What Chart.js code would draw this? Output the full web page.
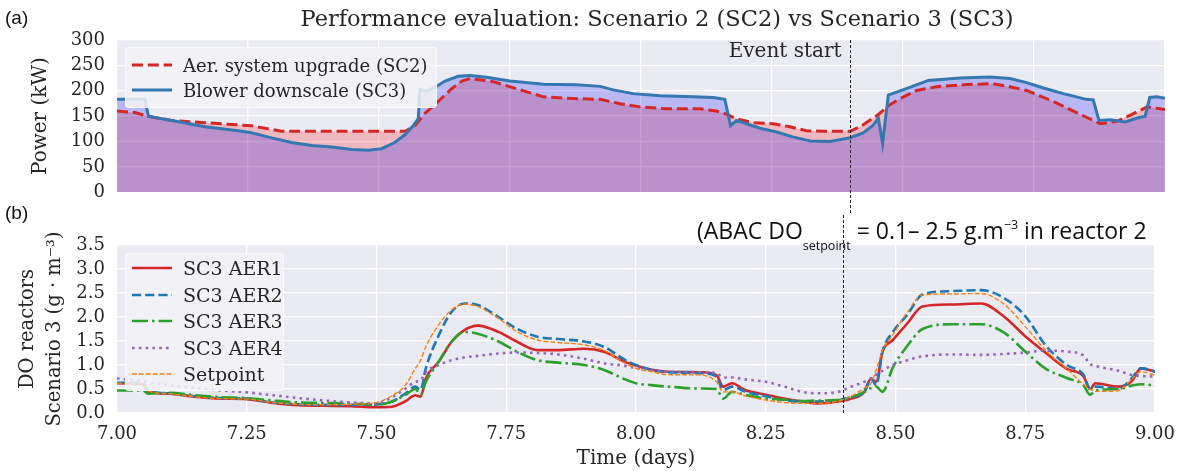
<!DOCTYPE html>
<html>
<head>
<meta charset="utf-8">
<title>SC2 vs SC3</title>
<script src="https://cdn.jsdelivr.net/npm/chart.js@4.4.1/dist/chart.umd.min.js"></script>
<style>
    body { margin: 0; width: 1186px; height: 471px; position: relative; overflow: hidden; background: #fff; color: #262626; font-family: "DejaVu Serif", serif; }
    canvas { position: absolute; left: 0; }
    #topChart { top: 0; }
    #bottomChart { top: 215px; }
    .panel-tag { position: absolute; left: 5px; font-family: "Liberation Sans", Arial, sans-serif; font-size: 19px; line-height: 22px; color: #111; }
    #mainTitle { position: absolute; top: 4px; left: 133px; width: 1048px; text-align: center; font-size: 22.5px; line-height: 28px; white-space: nowrap; }
    #abac { position: absolute; left: 697px; top: 216px; font-family: "Open Sans", sans-serif; font-size: 23px; line-height: 28px; white-space: nowrap; color: #111; }
    #abac .sub { font-size: 12.5px; position: relative; top: 11px; }
    #abac .sup { font-size: 12.5px; position: relative; top: -10px; }
    .legend { position: absolute; background: rgba(242, 242, 247, 0.85); border: 1px solid rgba(255, 255, 255, 0.7); border-radius: 4px; }
    .legend-row { position: absolute; left: 6px; height: 20px; display: flex; align-items: center; white-space: nowrap; }
    .legend-row svg { margin-right: 11px; }
    #topLegend .legend-row { font-size: 18px; }
    #bottomLegend .legend-row { font-size: 19px; }
</style>
</head>
<body>
<canvas id="topChart" width="1186" height="215"></canvas>
<canvas id="bottomChart" width="1186" height="256"></canvas>
<div class="panel-tag" style="top:7px">(a)</div>
<div class="panel-tag" style="top:202px">(b)</div>
<div id="mainTitle">Performance evaluation: Scenario 2 (SC2) vs Scenario 3 (SC3)</div>
<div id="abac">(ABAC DO<span class="sub">setpoint</span> = 0.1– 2.5 g.m<span class="sup">−3</span> in reactor 2</div>
<div class="legend" id="topLegend" style="left:125px; top:47px; width:310px; height:59px"></div>
<div class="legend" id="bottomLegend" style="left:125px; top:253px; width:157px; height:136px"></div>

<script>
// Power, scenario 2 (aeration system upgrade)
const sc2Days = [7.000, 7.034, 7.060, 7.104, 7.168, 7.219, 7.257, 7.289, 7.314, 7.550, 7.569, 7.588, 7.613, 7.638, 7.658, 7.674,
    7.718, 7.769, 7.814, 7.858, 7.922, 7.960, 7.998, 8.049, 8.113, 8.144, 8.163, 8.182, 8.214, 8.252, 8.284, 8.316, 8.351,
    8.399, 8.418, 8.450, 8.475, 8.501, 8.526, 8.564, 8.615, 8.669, 8.704, 8.736, 8.780, 8.831, 8.876, 8.908, 8.934, 8.966, 9.000];
const sc2Power = [160, 157, 149.5, 141.5, 137, 133.5, 131, 124.8, 120, 120, 132, 155.8, 178.8, 203.5, 219, 224,
    218, 201.7, 188, 185, 183, 174.5, 168.2, 164.4, 164.4, 160, 154, 144.7, 137, 135, 129, 121, 120,
    120, 129, 150.8, 172.6, 188, 200.5, 208, 211.7, 214.2, 208, 200.5, 182, 157, 135, 139.7, 152, 168.2, 163];

// Power, scenario 3 (blower downscale)
const sc3Days = [7.000, 7.053, 7.060, 7.104, 7.168, 7.231, 7.257, 7.295, 7.333, 7.372, 7.410, 7.448, 7.480, 7.505, 7.530,
    7.550, 7.566, 7.575, 7.578, 7.590, 7.607, 7.626, 7.651, 7.674, 7.705, 7.750, 7.814, 7.877, 7.922, 7.947, 7.985, 8.036,
    8.100, 8.138, 8.160, 8.171, 8.182, 8.195, 8.227, 8.259, 8.291, 8.323, 8.361, 8.399, 8.424, 8.443, 8.453, 8.461, 8.472,
    8.513, 8.548, 8.609, 8.666, 8.704, 8.736, 8.768, 8.806, 8.850, 8.863, 8.874, 8.895, 8.924, 8.952, 8.962, 8.971, 8.984, 9.000];
const sc3Power = [183, 183, 150, 141.5, 129, 121, 117, 107, 98, 92, 89, 84, 82.5, 85.7, 98,
    113.6, 132, 145, 203, 199, 207, 219, 228.5, 230, 226.6, 219, 212.9, 211.7, 208.6, 201.7, 194.3, 190,
    188, 186.8, 183, 131, 141.5, 137, 126, 118.6, 108.6, 101, 100, 107.4, 116.7, 132, 145.8, 96.2, 191.2,
    206.7, 220.3, 225.3, 227, 224, 216, 205.4, 194.3, 183, 182, 141.5, 142.8, 138.4, 147.7, 149.5, 186.8, 188, 185];

// DO in the aerated reactors, scenario 3
const doDays = [7.00, 7.05, 7.06, 7.10, 7.15, 7.20, 7.25, 7.30, 7.35, 7.40, 7.45, 7.50, 7.53, 7.555, 7.575, 7.585, 7.595,
    7.62, 7.645, 7.67, 7.695, 7.735, 7.77, 7.81, 7.85, 7.90, 7.94, 7.975, 8.00, 8.03, 8.06, 8.125, 8.155, 8.168, 8.185,
    8.21, 8.25, 8.285, 8.32, 8.35, 8.39, 8.415, 8.44, 8.453, 8.463, 8.475, 8.495, 8.523, 8.552, 8.61, 8.665, 8.71, 8.75,
    8.79, 8.83, 8.862, 8.875, 8.885, 8.93, 8.955, 8.973, 9.00];
const aer1 = [0.62, 0.60, 0.45, 0.40, 0.34, 0.30, 0.29, 0.21, 0.16, 0.15, 0.14, 0.12, 0.13, 0.24, 0.37, 0.34, 0.72,
    1.07, 1.49, 1.73, 1.82, 1.69, 1.49, 1.31, 1.31, 1.34, 1.27, 1.08, 0.99, 0.90, 0.86, 0.85, 0.79, 0.55, 0.62,
    0.48, 0.38, 0.30, 0.24, 0.20, 0.24, 0.30, 0.44, 0.72, 0.65, 1.28, 1.52, 1.87, 2.22, 2.26, 2.28, 2.00, 1.60,
    1.25, 0.92, 0.77, 0.50, 0.62, 0.55, 0.66, 0.93, 0.86];
const aer2 = [0.63, 0.62, 0.46, 0.41, 0.35, 0.31, 0.30, 0.22, 0.18, 0.17, 0.17, 0.18, 0.24, 0.40, 0.55, 0.48, 0.93,
    1.62, 2.11, 2.28, 2.25, 2.00, 1.76, 1.59, 1.54, 1.49, 1.37, 1.13, 1.00, 0.90, 0.85, 0.83, 0.76, 0.48, 0.55,
    0.45, 0.35, 0.27, 0.24, 0.24, 0.27, 0.33, 0.44, 0.72, 0.58, 1.28, 1.69, 2.05, 2.47, 2.54, 2.56, 2.39, 2.02,
    1.40, 1.00, 0.80, 0.51, 0.55, 0.50, 0.72, 0.93, 0.87];
const aer3 = [0.47, 0.47, 0.40, 0.42, 0.37, 0.33, 0.31, 0.26, 0.22, 0.21, 0.20, 0.17, 0.24, 0.37, 0.50, 0.38, 0.65,
    1.07, 1.49, 1.69, 1.65, 1.49, 1.28, 1.10, 1.05, 1.00, 0.89, 0.72, 0.62, 0.58, 0.55, 0.51, 0.50, 0.30, 0.44,
    0.38, 0.30, 0.28, 0.25, 0.26, 0.27, 0.33, 0.44, 0.52, 0.55, 0.44, 0.95, 1.40, 1.75, 1.85, 1.85, 1.67, 1.28,
    0.92, 0.73, 0.58, 0.38, 0.47, 0.50, 0.57, 0.60, 0.57];
const aer4 = [0.72, 0.66, 0.64, 0.58, 0.52, 0.47, 0.43, 0.37, 0.31, 0.26, 0.22, 0.20, 0.33, 0.50, 0.65, 0.68, 0.85,
    1.00, 1.10, 1.16, 1.19, 1.24, 1.26, 1.25, 1.22, 1.13, 1.03, 0.99, 0.94, 0.90, 0.86, 0.85, 0.83, 0.74, 0.74,
    0.70, 0.65, 0.55, 0.44, 0.41, 0.44, 0.55, 0.65, 0.72, 0.80, 0.88, 1.00, 1.10, 1.18, 1.22, 1.21, 1.23, 1.26,
    1.30, 1.28, 1.20, 1.02, 0.98, 0.88, 0.79, 0.77, 0.76];
const setpoint = [0.62, 0.60, 0.46, 0.40, 0.34, 0.30, 0.29, 0.22, 0.18, 0.17, 0.18, 0.22, 0.36, 0.57, 0.93, 1.10, 1.38,
    1.84, 2.15, 2.27, 2.22, 1.97, 1.70, 1.52, 1.47, 1.42, 1.30, 1.06, 0.93, 0.86, 0.80, 0.79, 0.65, 0.44, 0.44,
    0.36, 0.27, 0.22, 0.20, 0.20, 0.25, 0.35, 0.52, 0.62, 0.90, 1.30, 1.63, 2.10, 2.46, 2.48, 2.49, 2.26, 1.80,
    1.30, 0.92, 0.60, 0.50, 0.45, 0.47, 0.70, 0.86, 0.79];

const eventDay = 8.4;

const TEXT = "#262626";
Chart.defaults.font.family = '"DejaVu Serif", serif';
Chart.defaults.font.size = 18;
Chart.defaults.color = TEXT;

const pts = (xs, ys) => xs.map((x, i) => ({ x: x, y: ys[i] }));

// seaborn-like grey axes background
const axesBg = {
    id: "axesBg",
    beforeDraw(chart) {
        const { ctx, chartArea: a } = chart;
        ctx.save();
        ctx.fillStyle = "#eaeaf2";
        ctx.fillRect(a.left, a.top, a.width, a.height);
        ctx.restore();
    }
};

// vertical dashed marker running through both panels
const eventLine = {
    id: "eventLine",
    afterDatasetsDraw(chart, args, opts) {
        const { ctx, chartArea: a } = chart;
        const x = Math.round(chart.scales.x.getPixelForValue(eventDay)) - 0.5;
        const y0 = opts.upper ? a.top : 0;
        const y1 = opts.upper ? chart.height : a.bottom + 2;
        ctx.save();
        ctx.strokeStyle = "#222";
        ctx.lineWidth = 1;
        ctx.setLineDash([3, 2]);
        ctx.beginPath();
        ctx.moveTo(x, y0);
        ctx.lineTo(x, y1);
        ctx.stroke();
        if (opts.label) {
            ctx.fillStyle = TEXT;
            ctx.font = '20px "DejaVu Serif"';
            ctx.textAlign = "right";
            ctx.textBaseline = "middle";
            ctx.fillText(opts.label, x - 9, a.top + 12);
        }
        ctx.restore();
    }
};

function xAxis(showTicks, height) {
    return {
        type: "linear",
        min: 7,
        max: 9,
        border: { display: false },
        grid: { color: "#ffffff", lineWidth: 1.3, drawTicks: false },
        ticks: {
            display: showTicks,
            stepSize: 0.25,
            autoSkip: false,
            maxRotation: 0,
            padding: 11,
            callback: v => v.toFixed(2)
        },
        title: {
            display: showTicks,
            text: "Time (days)",
            font: { size: 20 },
            padding: { top: 0, bottom: 0 }
        },
        afterFit: s => { s.height = height; }
    };
}

function yAxisFit(s) { s.width = 117; }

const powerSets = [
    { label: "Aer. system upgrade (SC2)", days: sc2Days, vals: sc2Power, color: "#d62728", width: 3, dash: [11, 4.8], fillColor: "rgba(255, 0, 0, 0.21)", order: 2 },
    { label: "Blower downscale (SC3)", days: sc3Days, vals: sc3Power, color: "#3577b0", width: 3, dash: [], fillColor: "rgba(0, 0, 255, 0.21)", order: 1 }
];

const doSets = [
    { label: "SC3 AER1", vals: aer1, color: "#d62728", width: 2.6, dash: [] },
    { label: "SC3 AER2", vals: aer2, color: "#1f77b4", width: 2.6, dash: [9.2, 4] },
    { label: "SC3 AER3", vals: aer3, color: "#2ca02c", width: 2.6, dash: [16, 4, 2.5, 4] },
    { label: "SC3 AER4", vals: aer4, color: "#9467bd", width: 2.6, dash: [2.6, 4.2] },
    { label: "Setpoint", vals: setpoint, color: "#ff7f0e", width: 1.4, dash: [4.8, 2.1] }
];

new Chart(document.getElementById("topChart"), {
    type: "line",
    data: {
        datasets: powerSets.map(s => ({
            label: s.label,
            data: pts(s.days, s.vals),
            borderColor: s.color,
            borderWidth: s.width,
            borderDash: s.dash,
            backgroundColor: s.fillColor,
            fill: "origin",
            order: s.order,
            pointRadius: 0,
            tension: 0
        }))
    },
    options: {
        responsive: false,
        animation: false,
        devicePixelRatio: 1,
        layout: { padding: { top: 40, right: 21, left: 0, bottom: 0 } },
        plugins: {
            legend: { display: false },
            tooltip: { enabled: false },
            filler: { drawTime: "beforeDatasetsDraw" },
            eventLine: { upper: true, label: "Event start" }
        },
        scales: {
            x: xAxis(false, 14),
            y: {
                min: 0,
                max: 300,
                border: { display: false },
                grid: { color: "#ffffff", lineWidth: 1.3, drawTicks: false },
                ticks: { stepSize: 50, autoSkip: false, padding: 12 },
                title: { display: true, text: "Power (kW)", font: { size: 20 }, padding: { top: 29, bottom: 0 } },
                afterFit: yAxisFit
            }
        }
    },
    plugins: [axesBg, eventLine]
});

new Chart(document.getElementById("bottomChart"), {
    type: "line",
    data: {
        datasets: doSets.map((s, i) => ({
            label: s.label,
            data: pts(doDays, s.vals),
            borderColor: s.color,
            borderWidth: s.width,
            borderDash: s.dash,
            fill: false,
            order: doSets.length - i,
            pointRadius: 0,
            cubicInterpolationMode: "monotone"
        }))
    },
    options: {
        responsive: false,
        animation: false,
        devicePixelRatio: 1,
        layout: { padding: { top: 30, right: 21, left: 0, bottom: 0 } },
        plugins: {
            legend: { display: false },
            tooltip: { enabled: false },
            eventLine: { upper: false }
        },
        scales: {
            x: xAxis(true, 58),
            y: {
                min: 0,
                max: 3.5,
                border: { display: false },
                grid: { color: "#ffffff", lineWidth: 1.3, drawTicks: false },
                ticks: { stepSize: 0.5, autoSkip: false, padding: 12, callback: v => v.toFixed(1) },
                title: {
                    display: true,
                    text: ["DO reactors", "Scenario 3 (g · m⁻³)"],
                    font: { size: 19.5, lineHeight: 1.38 },
                    padding: { top: 14.5, bottom: 0 }
                },
                afterFit: yAxisFit
            }
        }
    },
    plugins: [axesBg, eventLine]
});

// legends drawn in HTML so they sit above the curves like the original
function buildLegend(id, items, firstTop, step) {
    const box = document.getElementById(id);
    items.forEach((it, i) => {
        const row = document.createElement("div");
        row.className = "legend-row";
        row.style.top = (firstTop + i * step) + "px";
        const dash = it.dash.length ? it.dash.join(" ") : "none";
        row.innerHTML =
            `<svg width="40" height="12"><line x1="0" y1="6" x2="40" y2="6" stroke="${it.color}" ` +
            `stroke-width="${it.width}" stroke-dasharray="${dash}"/></svg><span>${it.label}</span>`;
        box.appendChild(row);
    });
}

buildLegend("topLegend", powerSets, 7, 25);
buildLegend("bottomLegend", doSets, 4, 26.5);
</script>
</body>
</html>
